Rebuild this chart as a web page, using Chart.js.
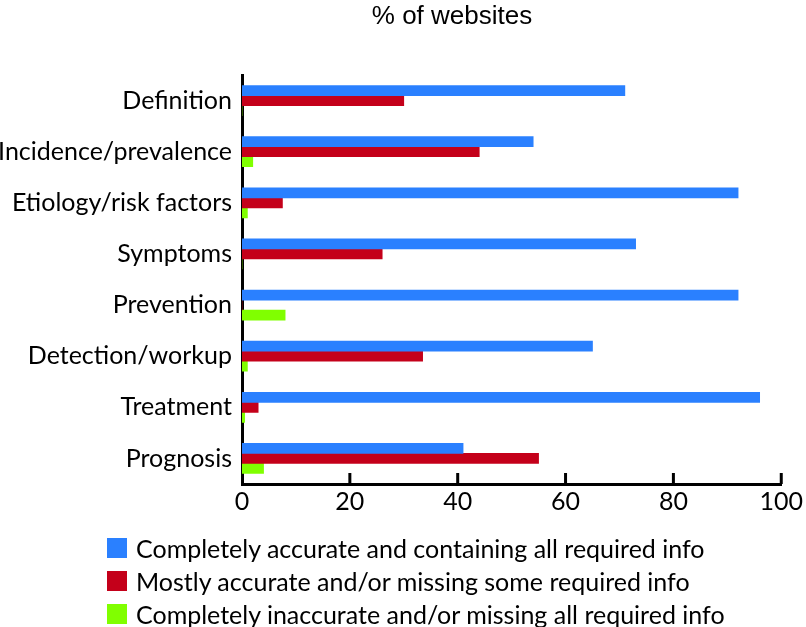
<!DOCTYPE html>
<html>
<head>
<meta charset="utf-8">
<script src="https://cdn.jsdelivr.net/npm/chart.js@4"></script>
<style>
  body { margin: 0; background: #fff; }
  #wrap { position: relative; width: 806px; height: 627px; }
  #title { position: absolute; left: 0; width: 904px; top: 0; text-align: center;
           font-family: 'Liberation Sans', Arial, sans-serif; font-size: 26px; color: #000; }
  #legend { position: absolute; left: 107px; top: 531px; font-family: Lato, sans-serif;
            font-size: 25px; color: #000; }
  #legend .row { height: 33px; display: flex; align-items: center; white-space: nowrap; }
  #legend .box { width: 20px; height: 20px; margin-right: 9px; }
</style>
</head>
<body>
<div id="wrap">
  <canvas id="chart" width="806" height="627"></canvas>
  <div id="title">% of websites</div>
  <div id="legend"></div>
</div>
<script>
const categories = ['Definition', 'Incidence/prevalence', 'Etiology/risk factors', 'Symptoms',
    'Prevention', 'Detection/workup', 'Treatment', 'Prognosis'];
const accurate = [71, 54, 92, 73, 92, 65, 96, 41];
const mostlyAccurate = [30, 44, 7.5, 26, 0, 33.5, 3, 55];
const inaccurate = [0, 2, 1, 0, 8, 1, 0.5, 4];
const xTicks = [0, 20, 40, 60, 80, 100];

const seriesLabels = [
    'Completely accurate and containing all required info',
    'Mostly accurate and/or missing some required info',
    'Completely inaccurate and/or missing all required info'
];
const seriesColors = ['#2a80ff', '#c4001a', '#80ff00'];

const FONT = 'Lato, sans-serif';

// tick marks pointing up into the plot, like the original
const upTicks = {
    id: 'upTicks',
    afterDraw(chart) {
        const { ctx, chartArea, scales: { x } } = chart;
        ctx.save();
        ctx.strokeStyle = '#000';
        ctx.lineWidth = 3;
        xTicks.slice(1).forEach(v => {
            const px = x.getPixelForValue(v);
            ctx.beginPath();
            ctx.moveTo(px, chartArea.bottom);
            ctx.lineTo(px, chartArea.bottom - 11);
            ctx.stroke();
        });
        ctx.restore();
    }
};

new Chart(document.getElementById('chart').getContext('2d'), {
    type: 'bar',
    data: {
        labels: categories,
        datasets: [accurate, mostlyAccurate, inaccurate].map((d, i) => ({
            label: seriesLabels[i],
            data: d,
            backgroundColor: seriesColors[i],
            barThickness: 10,
            borderWidth: 0
        }))
    },
    options: {
        indexAxis: 'y',
        responsive: false,
        animation: false,
        layout: { padding: { top: 75, right: 21, bottom: 103, left: 0 } },
        plugins: { legend: { display: false }, tooltip: { enabled: false } },
        scales: {
            x: {
                min: 0, max: 100, z: 1,
                afterBuildTicks: s => { s.ticks = xTicks.map(v => ({ value: v })); },
                afterFit: s => { s.height = 40; },
                grid: { display: false, drawTicks: false },
                border: { display: true, color: '#000', width: 3 },
                ticks: { color: '#000', padding: 3, font: { family: FONT, size: 25 } }
            },
            y: {
                z: 1,
                afterFit: s => { s.width = 242; },
                grid: { display: false, drawTicks: false },
                border: { display: true, color: '#000', width: 3 },
                ticks: { color: '#000', padding: 10, font: { family: FONT, size: 25 } }
            }
        }
    },
    plugins: [upTicks]
});

const legend = document.getElementById('legend');
seriesLabels.forEach((t, i) => {
    const row = document.createElement('div');
    row.className = 'row';
    row.innerHTML = `<span class="box" style="background:${seriesColors[i]}"></span><span>${t}</span>`;
    legend.appendChild(row);
});
</script>
</body>
</html>
